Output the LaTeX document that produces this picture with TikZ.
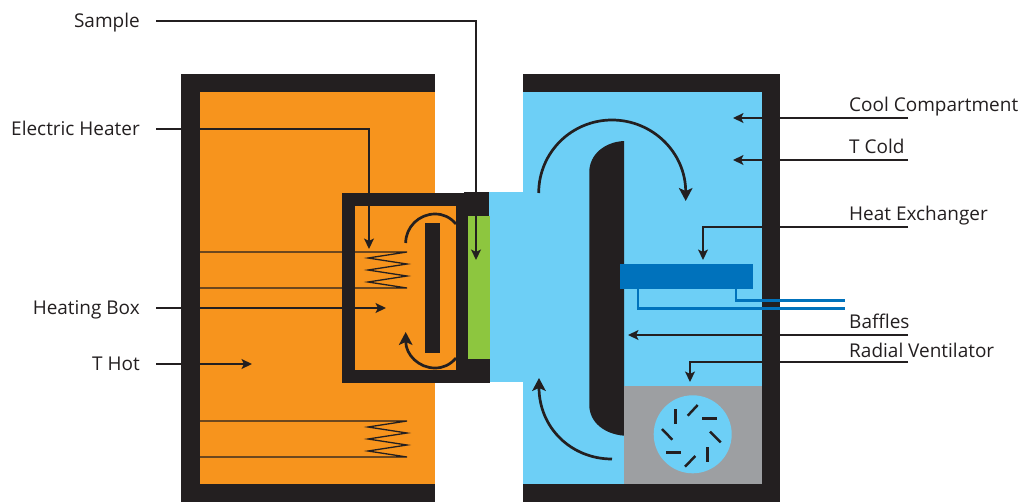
\documentclass[tikz,border=0pt]{standalone}
\usepackage{fontspec}
\setmainfont{Open Sans}
\usetikzlibrary{arrows.meta}
\definecolor{fblack}{RGB}{35,31,32}
\definecolor{horange}{RGB}{247,148,29}
\definecolor{cblue}{RGB}{109,207,246}
\definecolor{xblue}{RGB}{0,114,188}
\definecolor{sgreen}{RGB}{141,198,63}
\definecolor{fgray}{RGB}{157,159,162}
\tikzset{
  llabel/.style={anchor=east,inner xsep=13.65pt,inner ysep=0pt,text height=12.8pt,text depth=2.56pt,font=\fontsize{16.2}{18}\selectfont,text=fblack},
  rlabel/.style={anchor=base west,inner sep=0pt,font=\fontsize{16.2}{18}\selectfont,text=fblack},
  lead/.style={draw=fblack,line width=1.1pt,-{Stealth[length=9pt,width=8.5pt,inset=2.2pt]}},
  wire/.style={draw=fblack,line width=1.1pt},
  flow/.style={draw=fblack,line width=2.3pt,-{Stealth[length=11pt,width=11.5pt,inset=2.5pt]}},
  arcline/.style={draw=fblack,line width=2.3pt},
  pipe/.style={draw=xblue,line width=2.3pt},
  blade/.style={draw=fblack,line width=2.1pt},
}
\begin{document}
\begin{tikzpicture}[x=0.03cm,y=-0.03cm]
\useasboundingbox (0,0) rectangle (1024,502);
% hot side
\fill[fblack] (181,74) rectangle (435,502);
\fill[horange] (200,92) rectangle (435,484);
% cold side
\fill[fblack] (523,74) rectangle (780,502);
\fill[cblue] (523,92) rectangle (762,484);
\fill[cblue] (489,192) rectangle (524,382);
% sample and heating box
\fill[sgreen] (468,216) rectangle (490,359);
\fill[fblack] (342,193) rectangle (468,382.5);
\fill[horange] (355,206) rectangle (455.7,369.7);
\fill[fblack] (464,192) rectangle (489,216);
\fill[fblack] (464,359) rectangle (490,383);
\fill[fblack] (425,223) rectangle (440,353);
% baffle
\fill[fblack] (624,141) .. controls (604,142) and (589.3,155) .. (589.3,172) -- (589.3,405)
  .. controls (589.3,422) and (604,434) .. (624,435.7) -- cycle;
% fan
\fill[fgray] (624,385.7) rectangle (762,484);
\fill[cblue] (692.7,434.3) circle[radius=39];
\draw[blade] (675.3,409.3) -- (675.3,424.3);
\draw[blade] (697.7,405) -- (687.7,415.7);
\draw[blade] (702,418.7) -- (717,418.7);
\draw[blade] (710,431.7) -- (720.7,442.3);
\draw[blade] (707.3,447.3) -- (707.3,462.3);
\draw[blade] (695.3,456) -- (685,466.7);
\draw[blade] (666,452.3) -- (680.7,452.3);
\draw[blade] (662,429) -- (672.3,439.7);
% heat exchanger
\draw[pipe] (638,289) |- (845,308.5);
\draw[pipe] (736,289) |- (845,300.5);
\fill[xblue] (620,264) rectangle (753,289);
% heating wires
\draw[wire] (200,252) -- (407,252) -- (368,258) -- (407,264) -- (368,270) -- (407,276) -- (368,282) -- (407,288) -- (200,288);
\draw[wire] (200,421) -- (407,421) -- (368,427) -- (407,433) -- (368,439) -- (407,445) -- (368,451) -- (407,457) -- (200,457);
% air flow
\draw[flow] (538.7,193) .. controls (538.7,152.5) and (571.5,120) .. (612,120)
  .. controls (652.5,120) and (685.7,152.5) .. (685.7,201);
\draw[flow] (612,459) .. controls (571.5,459) and (539,428) .. (539,378);
\draw[arcline] (456,224) .. controls (450,217) and (443,214) .. (435,214)
  .. controls (419,214) and (405.7,227) .. (405.7,243);
\draw[flow] (456,358) .. controls (450,365) and (443,368) .. (435,368)
  .. controls (419,368) and (405.7,355) .. (405.7,332);
% labels
\node[llabel] (sample) at (156,21) {Sample};
\node[llabel] (heater) at (156,129) {Electric Heater};
\node[llabel] (hbox) at (156,308) {Heating Box};
\node[llabel] (thot) at (156,364) {T Hot};
\node[rlabel] (cool) at (849,111) {Cool Compartment};
\node[rlabel] (tcold) at (849,153) {T Cold};
\node[rlabel] (hex) at (849,220) {Heat Exchanger};
\node[rlabel] (baffles) at (849,328) {Baffles};
\node[rlabel] (radial) at (849,357) {Radial Ventilator};
\coordinate (sample_t) at (476,260);
\coordinate (heater_t) at (369,249);
\coordinate (hbox_t) at (386,308);
\coordinate (thot_t) at (252,364);
\coordinate (cool_s) at (908,118);
\coordinate (cool_t) at (733,118);
\coordinate (tcold_s) at (908,160);
\coordinate (tcold_t) at (733,160);
\coordinate (hex_s) at (908,227);
\coordinate (hex_t) at (703,260);
\coordinate (baffles_s) at (908,335);
\coordinate (baffles_t) at (628,335);
\coordinate (radial_s) at (908,362);
\coordinate (radial_t) at (690,382);
\draw[lead] (sample.east) -| (sample_t);
\draw[lead] (heater.east) -| (heater_t);
\draw[lead] (hbox.east) -- (hbox_t);
\draw[lead] (thot.east) -- (thot_t);
\draw[lead] (cool_s) -- (cool_t);
\draw[lead] (tcold_s) -- (tcold_t);
\draw[lead] (hex_s) -| (hex_t);
\draw[lead] (baffles_s) -- (baffles_t);
\draw[lead] (radial_s) -| (radial_t);
\end{tikzpicture}
\end{document}
